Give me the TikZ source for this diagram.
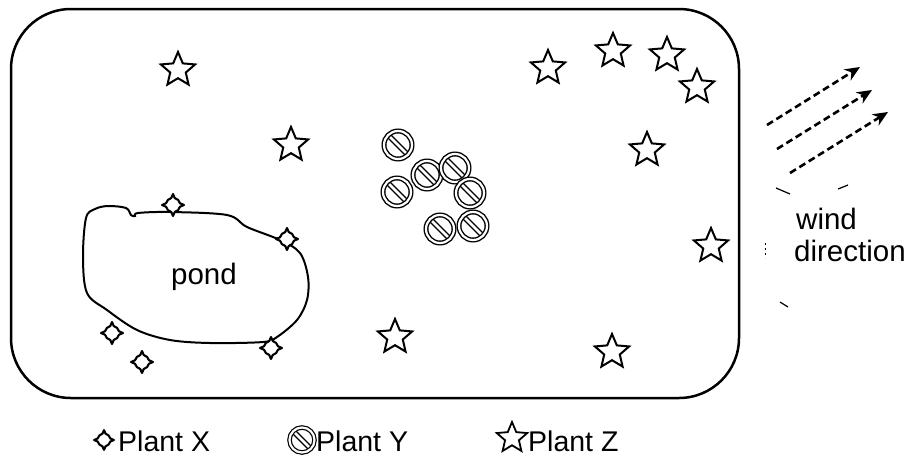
\documentclass[tikz,border=0pt]{standalone}
\usepackage{fontspec}
\setmainfont{Liberation Sans}
\usetikzlibrary{shapes.geometric,arrows.meta}
\tikzset{
  plantz/.style={star, star points=5, star point ratio=2.2, draw, line width=2pt, minimum size=36pt, inner sep=0pt, fill=white},
  planty/.style={circle, draw, double, double distance=2.2pt, line width=1.4pt, minimum size=28pt, inner sep=0pt,
    path picture={\draw[line width=1.4pt, double, double distance=2.8pt] (path picture bounding box.north west) -- (path picture bounding box.south east);}},
  plantx/.pic={
    \draw[line width=2.1pt, fill=white, line join=round]
      (0:11) -- (14:7.2) arc[start angle=14, end angle=76, radius=7.2]
      -- (90:11) -- (104:7.2) arc[start angle=104, end angle=166, radius=7.2]
      -- (180:11) -- (194:7.2) arc[start angle=194, end angle=256, radius=7.2]
      -- (270:11) -- (284:7.2) arc[start angle=284, end angle=346, radius=7.2] -- cycle;
    \coordinate (-c) at (0,0);
  },
  windarrow/.style={line width=2.6pt, dash pattern=on 7pt off 4pt, -{Stealth[length=15pt,width=13pt]}},
  lbl/.style={font=\fontsize{29.5}{32}\selectfont, inner sep=0pt},
  leg/.style={font=\fontsize{28.5}{31}\selectfont, inner sep=0pt, anchor=west},
  artifact/.style={line width=1.2pt}
}
\begin{document}
\begin{tikzpicture}[x=1pt,y=-1pt]
\useasboundingbox (0,0) rectangle (912,466);
% field
\draw[line width=2.5pt, rounded corners=60pt] (11,9) rectangle (739,398);
% pond
\draw[line width=2pt] plot[smooth cycle, tension=0.55] coordinates {
 (86,218) (95,209) (108,206) (126,208) (131,215) (135,216) (138,213) (170,212)
 (227,215) (247,227) (280,240) (300,253) (308,277) (307,300) (297,320) (277,337)
 (263,342) (210,343) (170,340) (137,330) (107,310) (87,293) (83,257)};
\node[lbl] (pond) at (204,277) {pond};
% plant Z
\node[plantz] (z1) at (178,70) {};
\node[plantz] (z2) at (291,145) {};
\node[plantz] (z3) at (548,68) {};
\node[plantz] (z4) at (613,51) {};
\node[plantz] (z5) at (667,55) {};
\node[plantz] (z6) at (697,87) {};
\node[plantz] (z7) at (647,150) {};
\node[plantz] (z8) at (711,246) {};
\node[plantz] (z9) at (395,337) {};
\node[plantz] (z10) at (612,352) {};
% plant Y
\node[planty] (y1) at (398,145) {};
\node[planty] (y2) at (427,175) {};
\node[planty] (y3) at (455,168) {};
\node[planty] (y4) at (397,192) {};
\node[planty] (y5) at (470,193) {};
\node[planty] (y6) at (440,229) {};
\node[planty] (y7) at (473,226) {};
% plant X
\pic (x1) at (173,205) {plantx};
\pic (x2) at (287,239) {plantx};
\pic (x3) at (271,348) {plantx};
\pic (x4) at (112,333) {plantx};
\pic (x5) at (142,362) {plantx};
% wind
\coordinate (a1s) at (767,125); \coordinate (a1e) at (860,67);
\coordinate (a2s) at (777,149); \coordinate (a2e) at (872,90);
\coordinate (a3s) at (790,173); \coordinate (a3e) at (888,112);
\draw[windarrow] (a1s) -- (a1e);
\draw[windarrow] (a2s) -- (a2e);
\draw[windarrow] (a3s) -- (a3e);
\node[lbl, anchor=west] (wind) at (796,219) {wind};
\node[lbl, anchor=west] (dir) at (794,251) {direction};
\draw[artifact] (776,188) -- (790,194);
\draw[artifact] (838,189) -- (848,185);
\draw[artifact] (780,302) -- (788,307);
\draw[line width=1pt, dash pattern=on 2pt off 3pt] (765,243) -- (765,258);
% legend
\pic[scale=0.9] (lx) at (104,440) {plantx};
\node[leg] (tx) at (118,441) {Plant X};
\node[planty, minimum size=25pt, line width=1.2pt] (ly) at (302,440) {};
\node[leg] (ty) at (316,441) {Plant Y};
\node[plantz, minimum size=32pt, line width=1.8pt] (lz) at (512,438) {};
\node[leg] (tz) at (528,441) {Plant Z};
\end{tikzpicture}
\end{document}
